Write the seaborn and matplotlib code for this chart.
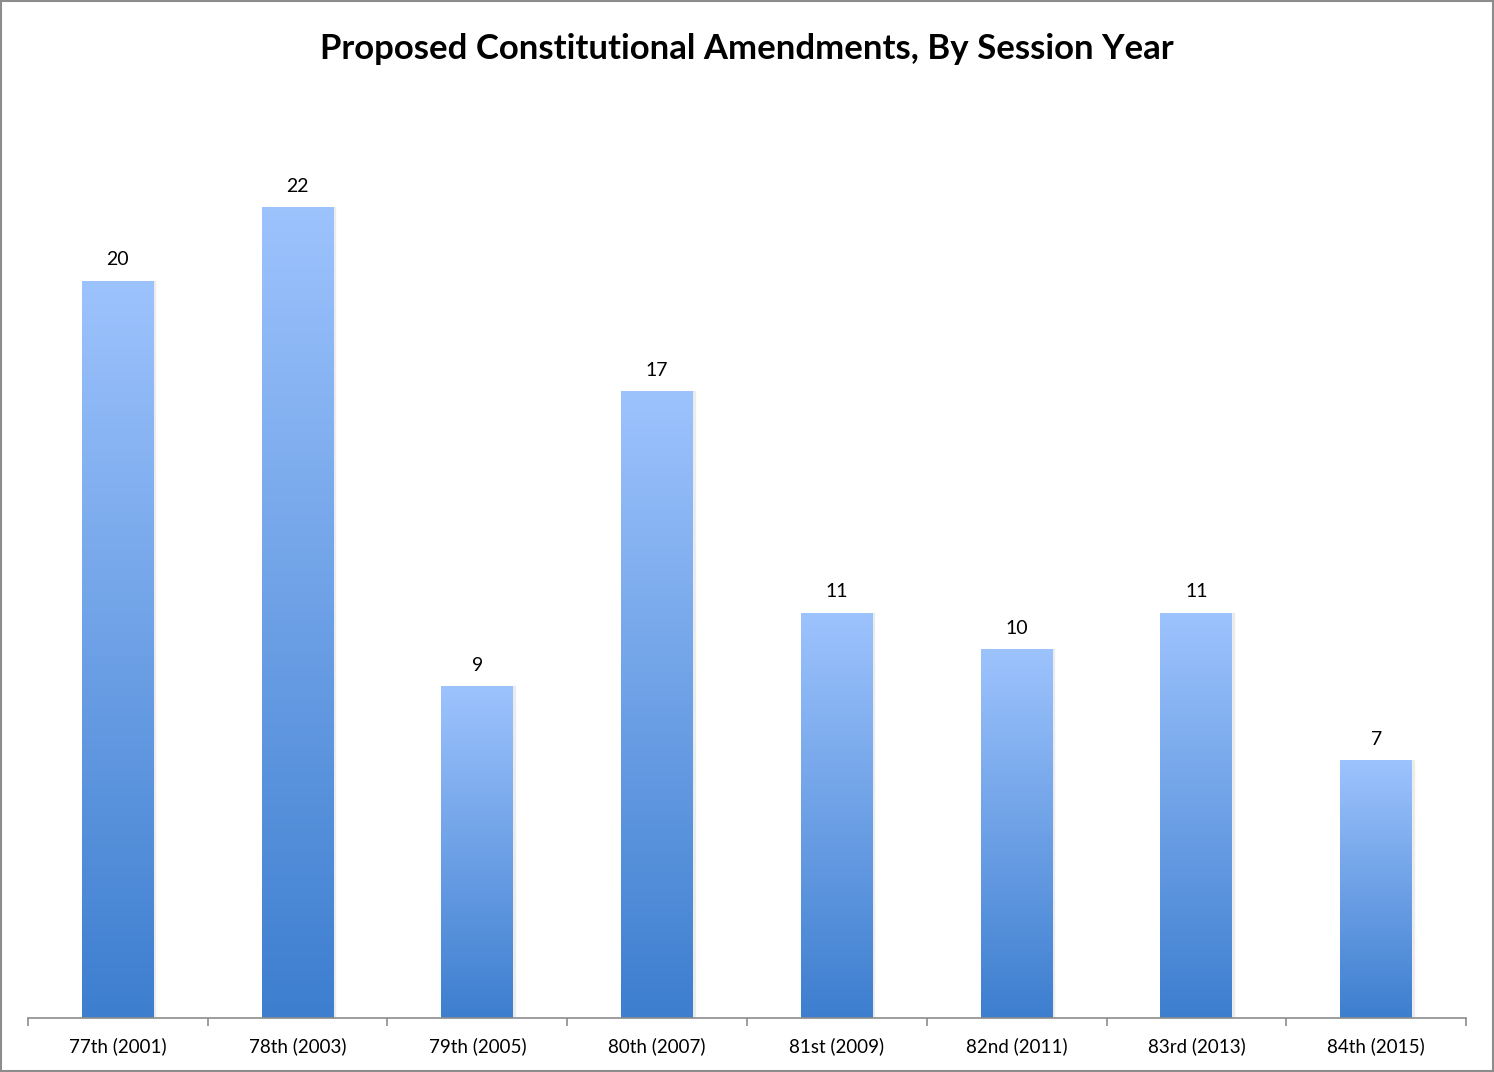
import numpy as np
import pandas as pd
import seaborn as sns
import matplotlib.pyplot as plt
from matplotlib.colors import LinearSegmentedColormap
from matplotlib.patches import Rectangle

# --- data
sessions = [
    "77th (2001)",
    "78th (2003)",
    "79th (2005)",
    "80th (2007)",
    "81st (2009)",
    "82nd (2011)",
    "83rd (2013)",
    "84th (2015)",
]
amendments = [20, 22, 9, 17, 11, 10, 11, 7]

df = pd.DataFrame({"session": sessions, "amendments": amendments})

# --- style
sns.set_style("white")
plt.rcParams["font.family"] = ["Lato", "DejaVu Sans"]
plt.rcParams["text.color"] = "black"
plt.rcParams["xtick.color"] = "black"

fig = plt.figure(figsize=(14.94, 10.72), dpi=100)
ax = fig.add_axes([0.01874, 0.05037, 0.96252, 0.8595])

sns.barplot(data=df, x="session", y="amendments", ax=ax, width=0.4,
            color="#6fa0e6", saturation=1, edgecolor="none")

# gradient fill for each bar
grad = LinearSegmentedColormap.from_list("g", ["#3d7ecf", "#9dc3fd"])
grad_img = np.linspace(0, 1, 256).reshape(-1, 1)
for patch in ax.patches:
    x0, y0 = patch.get_x(), patch.get_y()
    w, h = patch.get_width(), patch.get_height()
    # faint shadow on the right edge
    ax.add_patch(Rectangle((x0 + w, y0), 0.008, h, color="#ececec", zorder=1.5))
    im = ax.imshow(grad_img, cmap=grad, aspect="auto", origin="lower",
                   extent=(x0, x0 + w, y0, y0 + h), zorder=2)
    im.set_clip_path(patch)
    patch.set_facecolor("none")

ax.set_xlim(-0.5, len(sessions) - 0.5)
ax.set_ylim(0, 25)

ax.bar_label(ax.containers[0], labels=[str(v) for v in amendments],
             padding=9, fontsize=14, color="black")

# axes styling
for side in ["top", "right", "left"]:
    ax.spines[side].set_visible(False)
ax.spines["bottom"].set_color("#8c8c8c")
ax.spines["bottom"].set_linewidth(1.2)
ax.set_yticks([])
ax.set_xlabel("")
ax.set_ylabel("")
ax.tick_params(axis="x", which="major", length=0, pad=14, labelsize=13.5,
               labelcolor="black")
ax.set_xticks(np.arange(-0.5, len(sessions)), minor=True)
ax.tick_params(axis="x", which="minor", length=6, width=1.2, color="#8c8c8c",
               direction="out", bottom=True)

fig.text(0.5, 0.954, "Proposed Constitutional Amendments, By Session Year",
         ha="center", va="center", fontsize=25, fontweight="bold", color="black")

# outer frame
fig.add_artist(Rectangle((0.0005, 0.0007), 0.999, 0.9986, transform=fig.transFigure,
                         fill=False, edgecolor="#8c8c8c", linewidth=1.5))

plt.savefig("out.png", dpi=100)
